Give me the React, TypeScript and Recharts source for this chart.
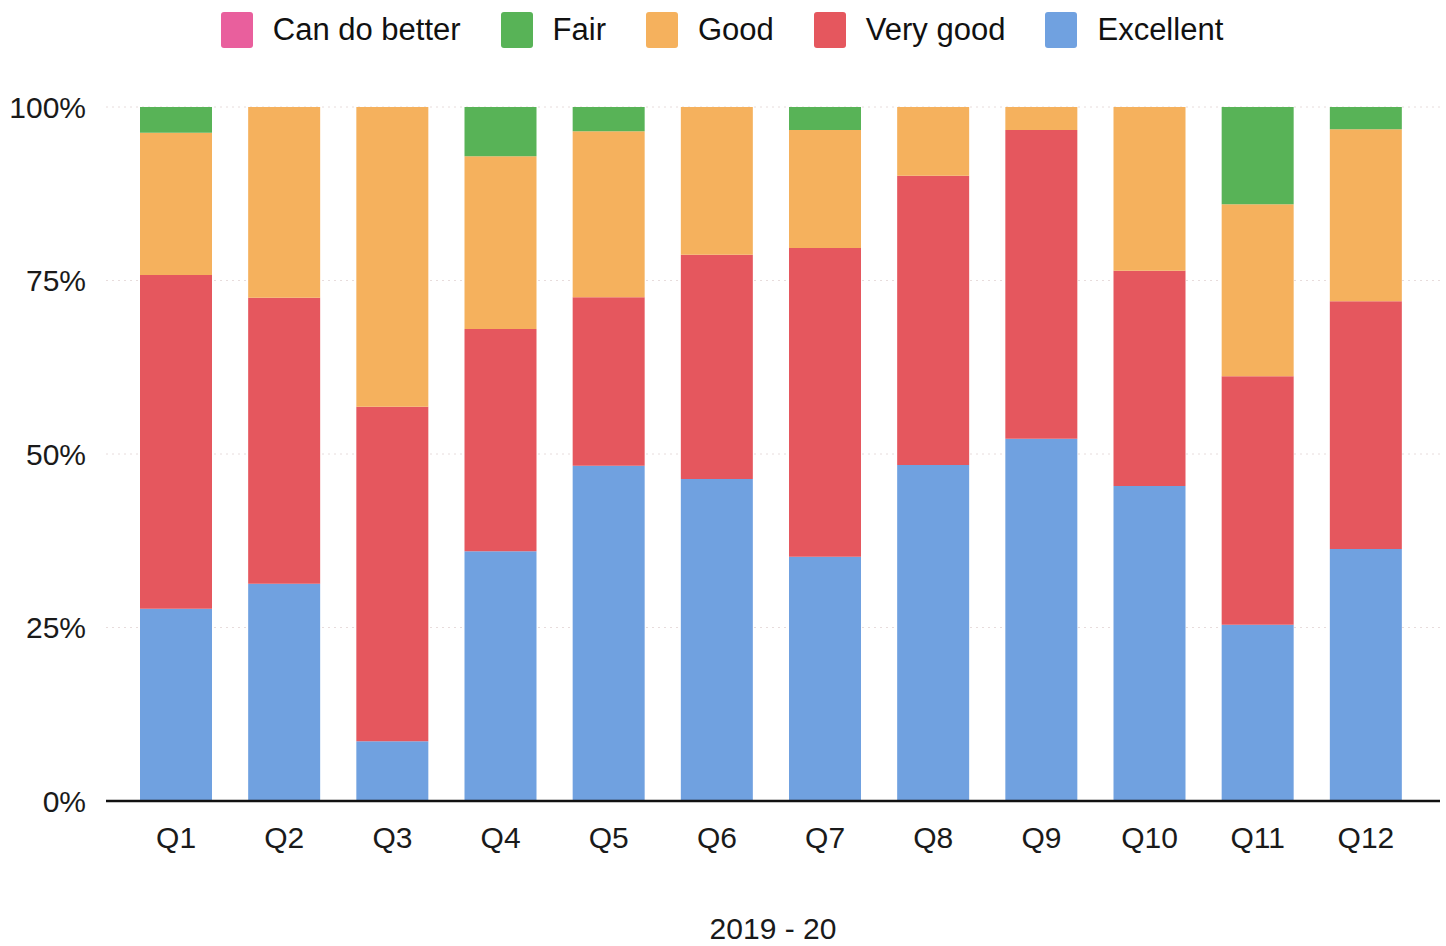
import React from "react";
import { BarChart, Bar, XAxis, YAxis, CartesianGrid, Legend } from "recharts";

// question labels along the x axis
const questions = ["Q1", "Q2", "Q3", "Q4", "Q5", "Q6", "Q7", "Q8", "Q9", "Q10", "Q11", "Q12"];

// share of answers per rating, in percent
const excellent = [27.7, 31.3, 8.6, 36.0, 48.3, 46.4, 35.2, 48.4, 52.2, 45.4, 25.4, 36.3];
const veryGood = [48.1, 41.2, 48.2, 32.0, 24.3, 32.3, 44.5, 41.7, 44.5, 31.0, 35.8, 35.7];
const good = [20.5, 27.5, 43.2, 24.9, 23.9, 21.3, 17.0, 9.9, 3.3, 23.6, 24.8, 24.8];
const fair = [3.7, 0, 0, 7.1, 3.5, 0, 3.3, 0, 0, 0, 14.0, 3.2];
const canDoBetter = [0, 0, 0, 0, 0, 0, 0, 0, 0, 0, 0, 0];

const yTicks = [0, 25, 50, 75, 100];

const colors = {
  canDoBetter: "#e95f9d",
  fair: "#58b357",
  good: "#f5b15d",
  veryGood: "#e5575e",
  excellent: "#70a1e0",
};

// legend reads left to right in this order
const legendItems = [
  { key: "canDoBetter", label: "Can do better" },
  { key: "fair", label: "Fair" },
  { key: "good", label: "Good" },
  { key: "veryGood", label: "Very good" },
  { key: "excellent", label: "Excellent" },
];

const data = questions.map((q, i) => ({
  q,
  excellent: excellent[i],
  veryGood: veryGood[i],
  good: good[i],
  fair: fair[i],
  canDoBetter: canDoBetter[i],
}));

const font = "'Liberation Sans', Arial, sans-serif";

function TopLegend() {
  return (
    <div
      style={{
        display: "flex",
        justifyContent: "center",
        alignItems: "center",
        fontFamily: font,
        fontSize: 31,
        color: "#111",
        paddingRight: 2,
      }}
    >
      {legendItems.map((it, idx) => (
        <div
          key={it.key}
          style={{
            display: "flex",
            alignItems: "center",
            marginRight: idx === legendItems.length - 1 ? 0 : 40,
          }}
        >
          <span
            style={{
              display: "inline-block",
              width: 32,
              height: 36,
              borderRadius: 3,
              background: (colors as Record<string, string>)[it.key],
              marginRight: 20,
            }}
          />
          <span>{it.label}</span>
        </div>
      ))}
    </div>
  );
}

export default function App() {
  return (
    <div style={{ position: "absolute", left: 0, top: 0, background: "#fff" }}>
      <BarChart
        width={1446}
        height={946}
        data={data}
        margin={{ top: 107, right: 6, bottom: 0, left: 26 }}
        barSize={72}
      >
        <CartesianGrid vertical={false} stroke="#e7dcdc" strokeDasharray="2 4" />
        <XAxis
          dataKey="q"
          height={145}
          padding={{ left: 16, right: 20 }}
          tickLine={false}
          tickSize={0}
          tickMargin={26}
          axisLine={{ stroke: "#111", strokeWidth: 2.5 }}
          tick={{ fontSize: 30, fill: "#1a1a1a", fontFamily: font }}
          label={{
            value: "2019 - 20",
            position: "insideBottom",
            offset: 7,
            style: { fontSize: 30, fill: "#1a1a1a", fontFamily: font },
          }}
        />
        <YAxis
          width={80}
          domain={[0, 100]}
          ticks={yTicks}
          axisLine={false}
          tickLine={false}
          tickSize={0}
          tickMargin={20}
          tickFormatter={(v) => `${v}%`}
          tick={{ fontSize: 30, fill: "#1a1a1a", fontFamily: font }}
        />
        <Legend
          verticalAlign="middle"
          align="center"
          layout="horizontal"
          wrapperStyle={{ top: 12, left: 0, width: 1446 }}
          content={() => <TopLegend />}
        />
        <Bar dataKey="excellent" name="Excellent" stackId="a" fill={colors.excellent} isAnimationActive={false} />
        <Bar dataKey="veryGood" name="Very good" stackId="a" fill={colors.veryGood} isAnimationActive={false} />
        <Bar dataKey="good" name="Good" stackId="a" fill={colors.good} isAnimationActive={false} />
        <Bar dataKey="fair" name="Fair" stackId="a" fill={colors.fair} isAnimationActive={false} />
        <Bar dataKey="canDoBetter" name="Can do better" stackId="a" fill={colors.canDoBetter} isAnimationActive={false} />
      </BarChart>
    </div>
  );
}
